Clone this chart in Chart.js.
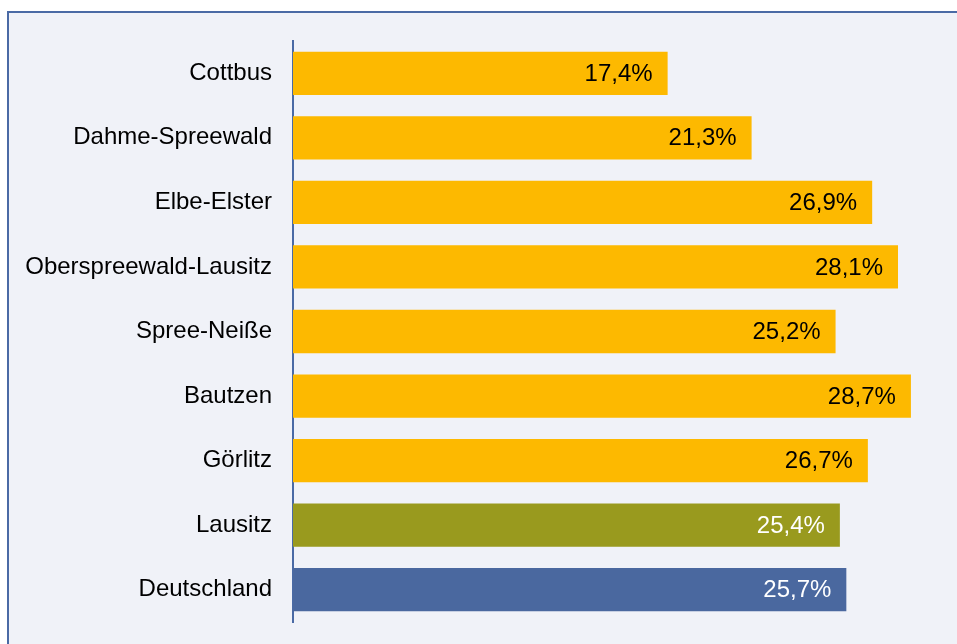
<!DOCTYPE html>
<html>
<head>
<meta charset="utf-8">
<script src="https://cdn.jsdelivr.net/npm/chart.js@4"></script>
<style>
  html, body { margin: 0; padding: 0; background: #ffffff; overflow: hidden; }
  #chart { display: block; }
</style>
</head>
<body>
<canvas id="chart" width="957" height="644"></canvas>
<script>
// Regionen und Anteile (in %)
const regionen = ['Cottbus', 'Dahme-Spreewald', 'Elbe-Elster', 'Oberspreewald-Lausitz',
  'Spree-Neiße', 'Bautzen', 'Görlitz', 'Lausitz', 'Deutschland'];
const anteile = [17.4, 21.3, 26.9, 28.1, 25.2, 28.7, 26.7, 25.4, 25.7];
const balkenFarben = ['#fdb900', '#fdb900', '#fdb900', '#fdb900', '#fdb900',
  '#fdb900', '#fdb900', '#999a1e', '#4a689f'];
const textFarben = ['#000', '#000', '#000', '#000', '#000', '#000', '#000', '#fff', '#fff'];

// Hintergrund-Rahmen wie im Original
const panelPlugin = {
  id: 'panel',
  beforeDraw(chart) {
    const ctx = chart.ctx;
    ctx.save();
    ctx.fillStyle = '#f0f2f8';
    ctx.fillRect(8, 12, chart.width, chart.height);
    ctx.strokeStyle = '#4a6aa5';
    ctx.lineWidth = 2;
    ctx.beginPath();
    ctx.moveTo(8, chart.height + 5);
    ctx.lineTo(8, 12);
    ctx.lineTo(chart.width + 5, 12);
    ctx.stroke();
    ctx.restore();
  }
};

// Werte-Beschriftung innen am Balkenende
const wertPlugin = {
  id: 'werte',
  afterDatasetsDraw(chart) {
    const ctx = chart.ctx;
    const meta = chart.getDatasetMeta(0);
    ctx.save();
    ctx.font = '24px "Liberation Sans", Arial, sans-serif';
    ctx.textAlign = 'right';
    ctx.textBaseline = 'middle';
    meta.data.forEach((bar, i) => {
      ctx.fillStyle = textFarben[i];
      const txt = anteile[i].toFixed(1).replace('.', ',') + '%';
      ctx.fillText(txt, bar.x - 15, bar.y + 1);
    });
    ctx.restore();
  }
};

new Chart(document.getElementById('chart'), {
  type: 'bar',
  data: {
    labels: regionen,
    datasets: [{
      data: anteile,
      backgroundColor: balkenFarben,
      barPercentage: 0.67,
      categoryPercentage: 1
    }]
  },
  options: {
    indexAxis: 'y',
    responsive: false,
    animation: false,
    layout: { padding: { top: 41, bottom: 22, left: 0, right: 0 } },
    plugins: {
      legend: { display: false },
      tooltip: { enabled: false }
    },
    scales: {
      x: {
        display: false,
        min: 0,
        max: 30.84
      },
      y: {
        afterFit(scale) {
          scale.width = 293;
          scale.paddingTop = 0;
          scale.paddingBottom = 0;
        },
        grid: { display: false, drawTicks: false },
        border: { display: true, color: '#4a6aa5', width: 2 },
        ticks: {
          padding: 21,
          color: '#000',
          font: { family: '"Liberation Sans", Arial, sans-serif', size: 24 }
        }
      }
    }
  },
  plugins: [panelPlugin, wertPlugin]
});
</script>
</body>
</html>
